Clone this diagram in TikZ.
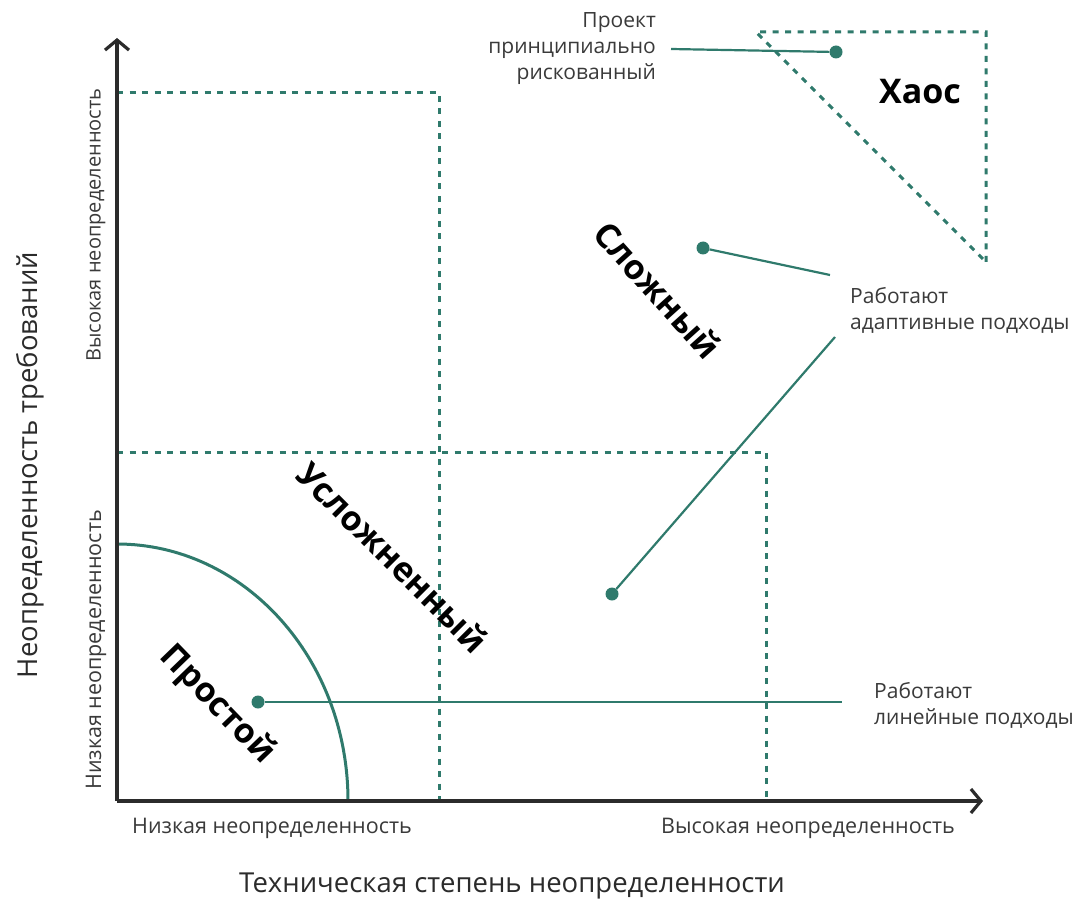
\documentclass[tikz,border=0pt]{standalone}
\usepackage{fontspec}
\setmainfont{Open Sans}
\usetikzlibrary{arrows.meta}
\definecolor{teal1}{HTML}{2F7A6C}
\definecolor{axisgray}{HTML}{2B2B2B}
\definecolor{labelgray}{HTML}{3A3A3A}
\begin{document}
\begin{tikzpicture}[x=1pt,y=-1pt,
  axis/.style={draw=axisgray,line width=3.2pt,-{Straight Barb[length=10pt,width=24pt,line width=3.2pt]}},
  zone/.style={draw=teal1,line width=3pt,dash pattern=on 6pt off 6.5pt},
  link/.style={draw=teal1,line width=2.2pt},
  dot/.style={circle,fill=teal1,inner sep=0pt,minimum size=13pt},
  small/.style={font=\fontsize{21.5}{25}\selectfont,text=labelgray,inner sep=0pt},
  note/.style={font=\fontsize{21}{26}\selectfont,text=labelgray,align=left,inner sep=0pt},
  big/.style={font=\fontsize{34}{40}\selectfont\bfseries,text=black,inner sep=0pt},
  title/.style={font=\fontsize{27.5}{32}\selectfont,text=axisgray,inner sep=0pt}]
\useasboundingbox (0,0) rectangle (1081,901);

% zone boundaries
\draw[zone] (117,93) -- (439,93) -- (439,801);
\draw[zone] (117,452) -- (766,452) -- (766,801);
\draw[zone] (986,262) -- (986,32) -- (756,32) -- cycle;

% simple zone: quarter arc
\draw[teal1,line width=3pt] (117,544) arc[start angle=90,end angle=0,x radius=231pt,y radius=257pt];

% axes
\coordinate (O) at (117,801);
\coordinate (ytip) at (117,38);
\coordinate (xtip) at (983,801);
\draw[axis] (O) -- (ytip);
\draw[axis] (O) -- (xtip);

% axis labels
\node[small,font=\fontsize{20}{24}\selectfont,rotate=90] (yhigh) at (96,225) {Высокая неопределенность};
\node[small,rotate=90] (ylow) at (96,650) {Низкая неопределенность};
\node[small] (xlow) at (272,828) {Низкая неопределенность};
\node[small] (xhigh) at (808,828) {Высокая неопределенность};
\node[title,rotate=90] (ytitle) at (30,465) {Неопределенность требований};
\node[title] (xtitle) at (512,886) {Техническая степень неопределенности};

% zone names
\node[big] (chaos) at (920,92) {Хаос};
\node[big,rotate=-48] (complex) at (658,290) {Сложный};
\node[big,rotate=-45] (compl) at (393,557) {Усложненный};
\node[big,rotate=-46] (simple) at (217,705) {Простой};

% example points
\node[dot] (d1) at (836,52) {};
\node[dot] (d2) at (703,248) {};
\node[dot] (d3) at (612,594) {};
\node[dot] (d4) at (258,702) {};

% notes
\node[note,align=right,anchor=east] (risk) at (656,49) {Проект\\принципиально\\рискованный};
\node[note,anchor=west] (adapt) at (850,310) {Работают\\адаптивные подходы};
\node[note,anchor=west] (linear) at (874,705) {Работают\\линейные подходы};

\coordinate (a1) at (830,275);
\coordinate (a2) at (835,337);
\coordinate (l1) at (842,702);

\draw[link] ([xshift=15pt]risk.east) -- (d1);
\draw[link] (d2) -- (a1);
\draw[link] (d3) -- (a2);
\draw[link] (d4) -- (l1);
\end{tikzpicture}
\end{document}
